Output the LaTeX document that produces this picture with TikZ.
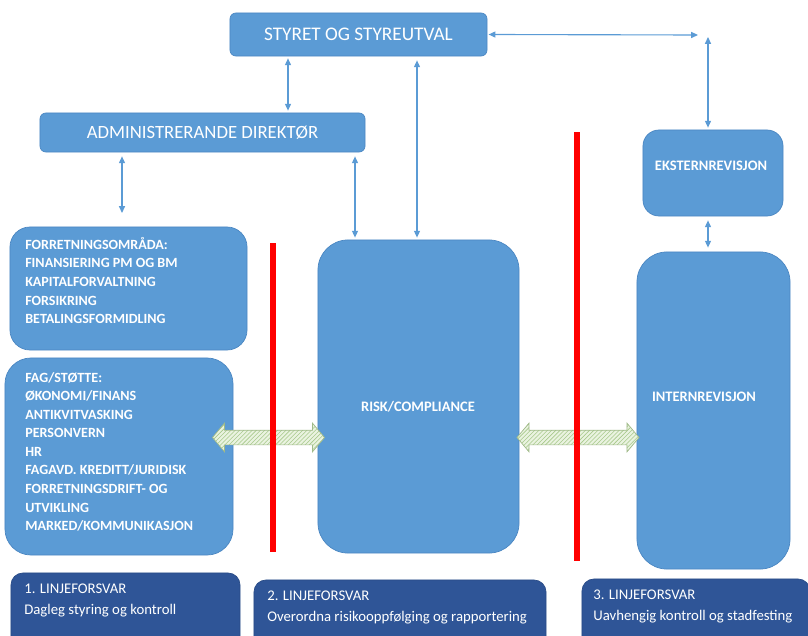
\documentclass[tikz,border=0pt]{standalone}
\usepackage{fontspec}
\setmainfont{Carlito}
\usetikzlibrary{arrows.meta,shapes.arrows,patterns}
\definecolor{boxblue}{HTML}{5B9BD5}
\definecolor{boxline}{HTML}{4A86C2}
\definecolor{darkblue}{HTML}{2F5597}
\definecolor{fatfill}{HTML}{EAF3E0}
\definecolor{fatline}{HTML}{A8C98C}
\tikzset{
	box/.style={draw=boxline,fill=boxblue,line width=0.5pt,text=white,inner sep=0pt},
	lfbox/.style={draw=darkblue!90!black,fill=darkblue,line width=0.5pt,rounded corners=0.3cm,inner sep=0pt},
	lftext/.style={text=white,align=left,inner sep=0pt,font=\fontsize{10.5}{15}\selectfont},
	listtext/.style={text=white,align=left,inner sep=0pt,font=\bfseries\fontsize{10}{13.2}\selectfont},
	boxtext/.style={text=white,inner sep=0pt,font=\bfseries\fontsize{10.3}{11}\selectfont},
	link/.style={draw=boxblue,line width=0.8pt,{Triangle[length=0.17cm,width=0.15cm]}-{Triangle[length=0.17cm,width=0.15cm]}},
	redbar/.style={fill=red,inner sep=0pt,minimum width=0.15cm},
	fat/.style={double arrow,draw=fatline!80!gray,line width=0.5pt,preaction={fill=fatfill},pattern=north east lines,pattern color=fatline,
		inner xsep=0pt,inner ysep=0.175cm,double arrow head extend=0.175cm,minimum height=2.8cm,double arrow tip angle=100}
}
\begin{document}
\begin{tikzpicture}[x=0.025cm,y=-0.025cm]
	\clip (0,0) rectangle (808,636);
	\useasboundingbox (0,0) rectangle (808,636);
	% top row
	\node [box,rounded corners=0.15cm,minimum width=6.425cm,minimum height=1.075cm,font=\fontsize{13.7}{15}\selectfont] (styret) at (358.5,34.5) {STYRET OG STYREUTVAL};
	\node [box,rounded corners=0.15cm,minimum width=8.125cm,minimum height=0.975cm,font=\fontsize{13.3}{15}\selectfont] (admin) at (202.5,132.5) {ADMINISTRERANDE DIREKT\O R};
	% 1. line
	\node [box,rounded corners=0.5cm,minimum width=5.925cm,minimum height=3.075cm] (forr) at (128.5,288.5) {};
	\node [listtext,anchor=north west] (forrtext) at (25,237) {FORRETNINGSOMR\r ADA:\\FINANSIERING PM OG BM\\KAPITALFORVALTNING\\FORSIKRING\\BETALINGSFORMIDLING};
	\node [box,rounded corners=0.65cm,minimum width=5.7cm,minimum height=4.925cm] (fag) at (119,456.5) {};
	\node [listtext,anchor=north west] (fagtext) at (25,372) {FAG/ST\O TTE:\\\O KONOMI/FINANS\\ANTIKVITVASKING\\PERSONVERN\\HR\\FAGAVD. KREDITT/JURIDISK\\FORRETNINGSDRIFT- OG\\UTVIKLING\\MARKED/KOMMUNIKASJON};
	% 2. line
	\node [box,rounded corners=0.75cm,minimum width=5.025cm,minimum height=7.825cm] (risk) at (418.5,396.5) {};
	\node [boxtext] (risktext) at (418,407) {RISK/COMPLIANCE};
	% 3. line
	\node [box,rounded corners=0.4cm,minimum width=3.5cm,minimum height=2.15cm] (ekstern) at (713,173) {};
	\node [boxtext] (eksterntext) at (711,166) {EKSTERNREVISJON};
	\node [box,rounded corners=0.75cm,minimum width=3.825cm,minimum height=7.925cm] (intern) at (713.5,410.5) {};
	\node [boxtext] (interntext) at (704,397) {INTERNREVISJON};
	% fat arrows
	\node [fat] (fatA) at (268.5,437.5) {};
	\node [fat,minimum height=3.05cm] (fatB) at (578,437.5) {};
	% red lines
	\node [redbar,minimum height=7.725cm] (redA) at (273,397.5) {};
	\node [redbar,minimum height=10.725cm] (redB) at (577,346.5) {};
	% bottom boxes
	\node [lfbox,minimum width=5.725cm,minimum height=2cm] (lf1) at (125.5,613) {};
	\node [lftext,anchor=north west] (lf1text) at (24,584) {1. LINJEFORSVAR\\Dagleg styring og kontroll};
	\node [lfbox,minimum width=7.3cm,minimum height=2cm] (lf2) at (400,620) {};
	\node [lftext,anchor=north west] (lf2text) at (267,591) {2. LINJEFORSVAR\\Overordna risikooppf\o lging og rapportering};
	\node [lfbox,minimum width=5.7cm,minimum height=2cm] (lf3) at (696,619) {};
	\node [lftext,anchor=north west] (lf3text) at (593,590) {3. LINJEFORSVAR\\Uavhengig kontroll og stadfesting};
	% connectors
	\coordinate (xa) at (288,0);
	\coordinate (xb) at (417,0);
	\coordinate (xc) at (122,0);
	\coordinate (xd) at (355,0);
	\coordinate (xe) at (708,0);
	\coordinate (hend) at (698,35);
	\coordinate (vtop) at (708,37);
	\coordinate (forrtop) at (122,213);
	\draw [link,shorten <=0.05cm,shorten >=0.05cm] (styret.south -| xa) -- (admin.north -| xa);
	\draw [link,shorten <=0.1cm,shorten >=0.05cm] (styret.south -| xb) -- (risk.north -| xb);
	\draw [link,shorten <=0.03cm] (styret.east) -- (hend);
	\draw [link,shorten >=0.05cm] (vtop) -- (ekstern.north -| xe);
	\draw [link,shorten <=0.1cm,shorten >=0.1cm] (ekstern.south -| xe) -- (intern.north -| xe);
	\draw [link,shorten <=0.1cm] (admin.south -| xc) -- (forrtop);
	\draw [link,shorten <=0.1cm,shorten >=0.05cm] (admin.south -| xd) -- (risk.north -| xd);
\end{tikzpicture}
\end{document}
